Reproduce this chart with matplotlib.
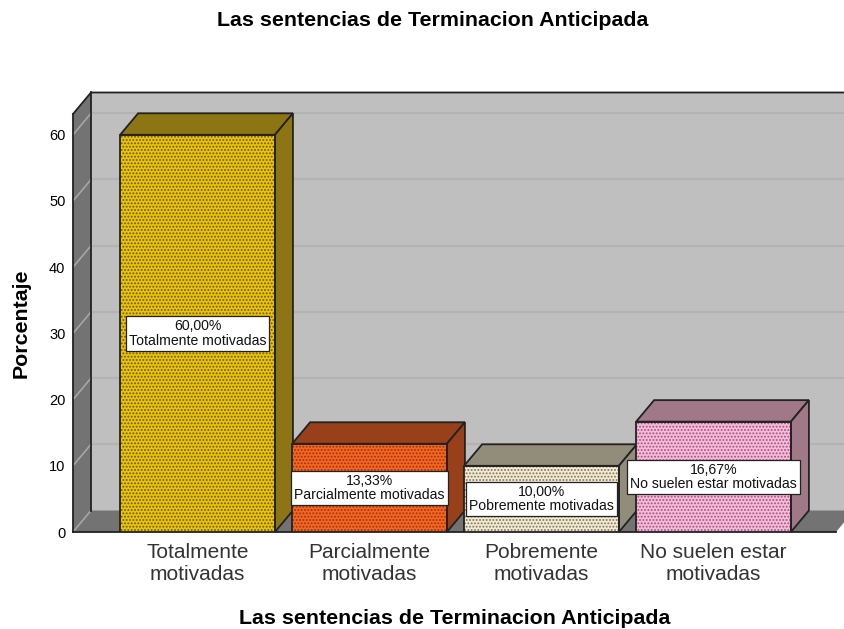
import matplotlib
matplotlib.use('Agg')
import matplotlib.pyplot as plt

plt.rcParams['font.family'] = ['Liberation Sans', 'DejaVu Sans']
plt.rcParams['hatch.linewidth'] = 0.9

# data
categories = ['Totalmente\nmotivadas', 'Parcialmente\nmotivadas', 'Pobremente\nmotivadas', 'No suelen estar\nmotivadas']
box_names = ['Totalmente motivadas', 'Parcialmente motivadas', 'Pobremente motivadas', 'No suelen estar motivadas']
percent = [60.00, 13.33, 10.00, 16.67]
yticks = [0, 10, 20, 30, 40, 50, 60]

front_colors = ['#eac20a', '#fb6420', '#f3ead0', '#fdb6dc']
dot_colors = ['#6b5a10', '#8a3a14', '#7a7462', '#8a6072']
dark_colors = ['#8c7512', '#97401a', '#928c7a', '#a07888']

W, H = 845, 629
fig = plt.figure(figsize=(W / 100, H / 100), dpi=100)
ax = fig.add_axes([73 / W, 1 - 532 / H, (836 - 73) / W, (532 - 114) / H])

# one category = 172 px, one percent = 6.62 px
ax.set_xlim(-0.724, (836 - 197.5) / 172)
ax.set_ylim(0, 418 / 6.62)
x0, x1 = ax.get_xlim()
y0, y1 = ax.get_ylim()
dx = 18 / 172
dy = 21.5 / 6.62
wall = '#737373'
line = '#222222'

# walls and floor
ax.fill([x0 + dx, x1 + dx, x1 + dx, x0 + dx], [y0 + dy, y0 + dy, y1 + dy, y1 + dy],
        color='#bfbfbf', lw=0, clip_on=False, zorder=1)
ax.fill([x0, x0 + dx, x0 + dx, x0], [y0, y0 + dy, y1 + dy, y1],
        color=wall, lw=0, clip_on=False, zorder=1)
ax.fill([x0, x1, x1 + dx, x0 + dx], [y0, y0, y0 + dy, y0 + dy],
        color=wall, lw=0, clip_on=False, zorder=1)

for t in yticks[1:]:
    ax.plot([x0, x0 + dx], [t, t + dy], color='#a6a6a6', lw=1.2, clip_on=False, zorder=2)
    ax.plot([x0 + dx, x1 + dx], [t + dy, t + dy], color='#b3b3b3', lw=1.6, clip_on=False, zorder=2)
ax.plot([x0, x0 + dx], [0, dy], color='#a6a6a6', lw=1.2, clip_on=False, zorder=2)

ax.plot([x0 + dx, x0 + dx], [y0 + dy, y1 + dy], color=line, lw=1.3, clip_on=False, zorder=3)
ax.plot([x0, x0 + dx, x1 + dx], [y1, y1 + dy, y1 + dy], color=line, lw=1.3, clip_on=False, zorder=3)

# bars
w = 0.9
for i, v in enumerate(percent):
    z = 4 + i
    ax.bar(i, v, width=w, facecolor=front_colors[i], edgecolor=dot_colors[i], hatch='.....',
           lw=0, zorder=z)
    ax.bar(i, v, width=w, facecolor='none', edgecolor=line, lw=1.3, zorder=z + 0.1)
    l, r = i - w / 2, i + w / 2
    ax.fill([l, r, r + dx, l + dx], [v, v, v + dy, v + dy], facecolor=dark_colors[i],
            edgecolor=line, lw=1.3, clip_on=False, zorder=z)
    ax.fill([r, r + dx, r + dx, r], [0, dy, v + dy, v], facecolor=dark_colors[i],
            edgecolor=line, lw=1.3, clip_on=False, zorder=z)

# labels in boxes go on top of all bars
for i, v in enumerate(percent):
    label = f'{v:.2f}%'.replace('.', ',') + '\n' + box_names[i]
    ax.text(i, v / 2, label, ha='center', va='center', fontsize=10.1, linespacing=1.03,
            color='#111111', zorder=20,
            bbox=dict(boxstyle='square,pad=0.22', facecolor='white', edgecolor=line, lw=0.9))

ax.patch.set_visible(False)
ax.spines['top'].set_visible(False)
ax.spines['right'].set_visible(False)
for s in ['left', 'bottom']:
    ax.spines[s].set_color(line)
    ax.spines[s].set_linewidth(1.3)
    ax.spines[s].set_zorder(3)

ax.set_xticks(range(len(categories)))
ax.set_xticklabels(categories, fontsize=15, color='#333333', linespacing=1.16)
ax.set_yticks(yticks)
ax.tick_params(axis='x', length=0, pad=8)
ax.tick_params(axis='y', length=0, pad=5.5, labelsize=10.5)

ax.set_xlabel('Las sentencias de Terminacion Anticipada', fontsize=15.4, fontweight='bold', labelpad=18)
ax.set_ylabel('Porcentaje', fontsize=15.4, fontweight='bold', labelpad=13)
fig.text(433 / W, 1 - 20.5 / H, 'Las sentencias de Terminacion Anticipada', fontsize=15.4,
         fontweight='bold', ha='center', va='center')

plt.savefig('out.png', dpi=100)
